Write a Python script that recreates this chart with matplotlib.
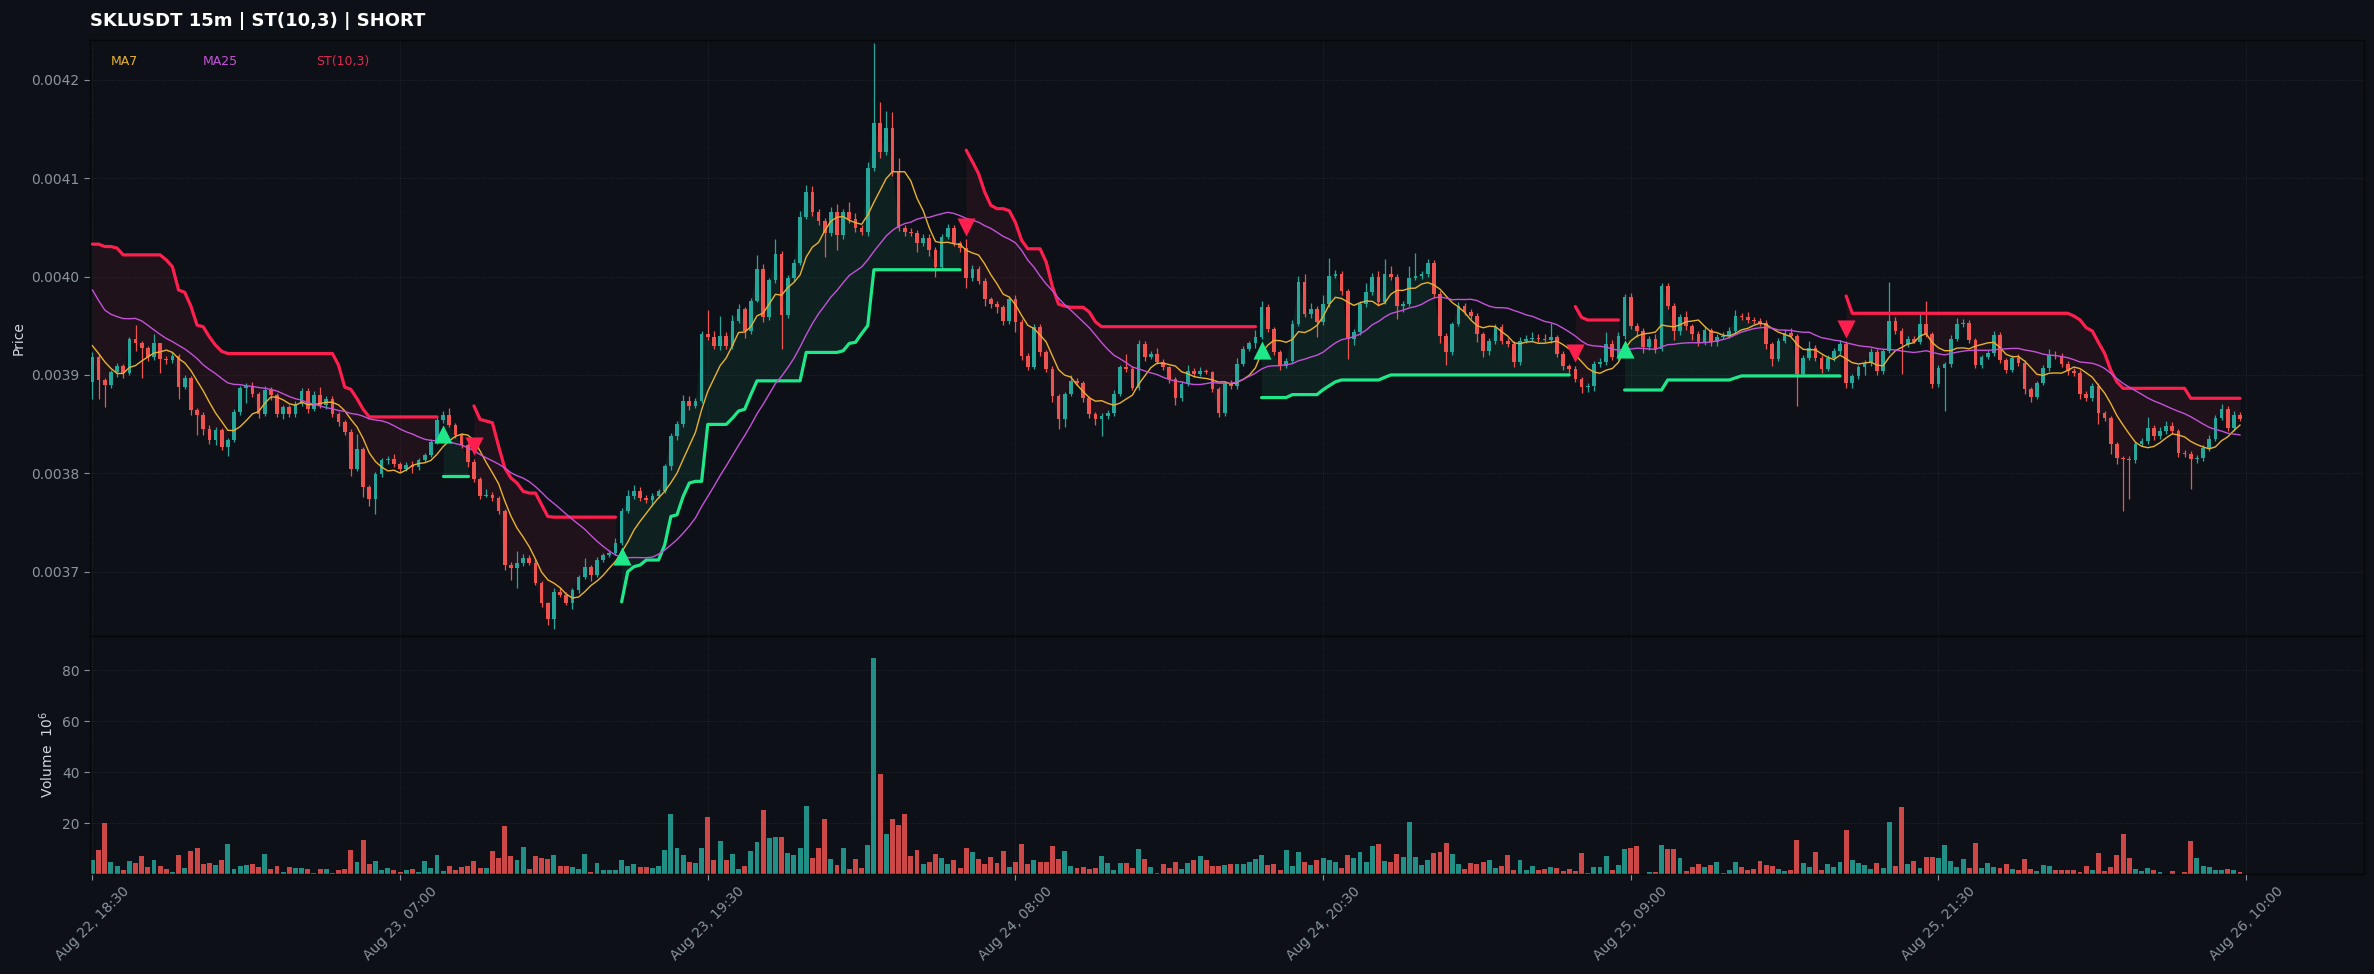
import numpy as np
import pandas as pd
import matplotlib
matplotlib.use("Agg")
import matplotlib.pyplot as plt

# ---------------- data (prices in units of 1e-7 USDT, volume in 1e6) ----------------
tick_index = [0, 50, 100, 150, 200, 250, 300, 350]
tick_labels = ["Aug 22, 18:30", "Aug 23, 07:00", "Aug 23, 19:30", "Aug 24, 08:00",
               "Aug 24, 20:30", "Aug 25, 09:00", "Aug 25, 21:30", "Aug 26, 10:00"]

# closes before the visible window (only used to seed the moving averages)
warmup_close = [41600, 41350, 40100, 39700, 39500, 39400, 39246, 39900, 40300, 40500,
                40300, 40192, 40000, 39800, 39900, 39800, 39869, 40065, 39500, 39490,
                39500, 39458, 39016, 38930]

close = [
    39185, 38947, 38902, 39032, 39093, 39015, 39361, 39320, 39270, 39185,
    39320, 39167, 39150, 39195, 38879, 38964, 38641, 38590, 38454, 38335,
    38437, 38267, 38335, 38624, 38868, 38885, 38811, 38607, 38845, 38794,
    38607, 38675, 38607, 38709, 38834, 38658, 38794, 38692, 38760, 38607,
    38522, 38420, 38046, 38250, 37859, 37740, 37995, 38131, 38148, 38097,
    38046, 38080, 38063, 38131, 38182, 38318, 38539, 38590, 38488, 38386,
    38284, 38114, 37944, 37774, 37780, 37750, 37612, 37067, 37033, 37084,
    37135, 37084, 36880, 36676, 36522, 36795, 36761, 36676, 36812, 36948,
    37050, 36965, 37118, 37169, 37186, 37288, 37612, 37765, 37816, 37748,
    37731, 37765, 37816, 38072, 38378, 38497, 38736, 38685, 38736, 39417,
    39383, 39298, 39400, 39298, 39553, 39672, 39451, 39757, 40081, 39587,
    39961, 40234, 39610, 39983, 40136, 40610, 40864, 40661, 40569, 40441,
    40661, 40424, 40661, 40590, 40491, 40458, 41102, 41566, 41271, 41508,
    41068, 40491, 40458, 40447, 40339, 40390, 40271, 40102, 40407, 40491,
    40339, 40288, 39983, 40074, 39960, 39773, 39722, 39688, 39552, 39773,
    39535, 39195, 39076, 39484, 39229, 39059, 38787, 38548, 38803, 38940,
    38923, 38770, 38600, 38549, 38583, 38617, 38804, 39076, 39059, 38872,
    39314, 39178, 39212, 39127, 39076, 38957, 38770, 38906, 39042, 39008,
    39042, 39025, 38855, 38617, 38923, 38889, 39110, 39263, 39320, 39382,
    39688, 39467, 39229, 39093, 39146, 39519, 39942, 39620, 39671, 39536,
    39722, 40010, 40027, 39858, 39366, 39434, 39722, 39841, 39993, 39739,
    40027, 39993, 39705, 39722, 39986, 40010, 40027, 40136, 39824, 39400,
    39230, 39519, 39705, 39637, 39603, 39417, 39247, 39342, 39491, 39349,
    39315, 39129, 39349, 39366, 39376, 39366, 39359, 39383, 39213, 39095,
    39061, 38959, 38875, 38890, 39112, 39129, 39315, 39180, 39400, 39790,
    39502, 39451, 39281, 39366, 39264, 39908, 39705, 39451, 39593, 39502,
    39417, 39332, 39457, 39332, 39383, 39400, 39451, 39603, 39586, 39559,
    39552, 39532, 39312, 39159, 39346, 39430, 39397, 39007, 39176, 39271,
    39169, 39058, 39176, 39244, 39312, 38922, 38990, 39081, 39125, 39237,
    39041, 39244, 39549, 39447, 39312, 39363, 39340, 39515, 39414, 38912,
    39075, 39108, 39363, 39522, 39532, 39353, 39102, 39183, 39227, 39407,
    39149, 39047, 39176, 39125, 38854, 38776, 38922, 39068, 39203, 39193,
    39115, 39041, 39024, 38810, 38769, 38888, 38617, 38566, 38295, 38159,
    38142, 38139, 38295, 38329, 38464, 38380, 38430, 38481, 38430, 38210,
    38193, 38142, 38159, 38261, 38346, 38566, 38651, 38464, 38593, 38549,
]

upper_wick = [
    51, 27, 20, 17, 24, 17, 27, 150, 30, 20,
    100, 10, 30, 40, 20, 40, 30, 20, 30, 40,
    30, 20, 20, 30, 20, 30, 40, 20, 40, 30,
    20, 20, 20, 30, 30, 30, 40, 80, 30, 30,
    20, 20, 30, 150, 20, 20, 20, 20, 30, 50,
    20, 30, 40, 20, 20, 30, 40, 40, 70, 20,
    20, 20, 30, 20, 60, 30, 20, 20, 30, 130,
    40, 30, 40, 20, 20, 40, 50, 30, 20, 20,
    90, 20, 30, 20, 30, 50, 40, 70, 60, 40,
    30, 30, 20, 20, 30, 30, 60, 50, 30, 30,
    240, 60, 200, 40, 60, 50, 20, 30, 140, 50,
    20, 150, 30, 30, 40, 60, 70, 60, 30, 30,
    50, 80, 30, 100, 60, 30, 60, 807, 210, 180,
    170, 135, 30, 40, 30, 40, 40, 30, 30, 40,
    30, 20, 90, 40, 30, 30, 20, 30, 20, 30,
    40, 30, 30, 30, 30, 20, 30, 20, 20, 60,
    30, 20, 20, 20, 30, 30, 40, 30, 140, 30,
    40, 30, 30, 60, 40, 20, 20, 30, 60, 30,
    40, 20, 20, 20, 20, 30, 60, 30, 30, 80,
    60, 30, 20, 20, 30, 40, 60, 80, 60, 30,
    90, 180, 40, 30, 20, 30, 30, 90, 40, 60,
    150, 80, 30, 30, 120, 230, 30, 40, 30, 30,
    30, 20, 40, 30, 30, 30, 20, 30, 30, 30,
    30, 30, 40, 40, 60, 40, 50, 150, 20, 30,
    20, 30, 20, 30, 30, 40, 120, 40, 40, 30,
    40, 30, 30, 30, 50, 30, 30, 30, 30, 60,
    20, 30, 40, 20, 30, 40, 40, 60, 30, 50,
    30, 30, 30, 20, 30, 40, 50, 20, 30, 70,
    30, 30, 30, 30, 40, 30, 20, 20, 30, 40,
    30, 20, 400, 40, 30, 30, 30, 130, 240, 20,
    30, 20, 40, 60, 40, 30, 20, 20, 30, 40,
    30, 20, 30, 40, 30, 20, 20, 30, 60, 40,
    30, 30, 30, 30, 30, 30, 30, 20, 20, 20,
    20, 30, 20, 30, 110, 30, 40, 50, 40, 20,
    30, 30, 30, 30, 40, 30, 50, 30, 40, 30,
]

lower_wick = [
    170, 187, 228, 34, 51, 51, 17, 80, 300, 40,
    34, 150, 40, 30, 120, 20, 50, 200, 60, 40,
    50, 30, 90, 20, 30, 150, 40, 40, 20, 50,
    30, 50, 30, 30, 20, 50, 20, 30, 40, 30,
    40, 30, 70, 20, 100, 70, 150, 30, 40, 30,
    30, 20, 60, 30, 20, 20, 20, 30, 20, 30,
    30, 50, 30, 40, 20, 30, 30, 50, 120, 200,
    30, 20, 20, 40, 60, 110, 20, 20, 60, 30,
    20, 60, 20, 20, 20, 20, 20, 20, 30, 30,
    30, 60, 20, 20, 40, 40, 30, 40, 20, 20,
    30, 30, 40, 30, 30, 20, 80, 30, 20, 50,
    30, 30, 350, 30, 30, 20, 20, 40, 40, 240,
    30, 150, 40, 40, 40, 30, 40, 30, 60, 30,
    40, 30, 40, 30, 90, 30, 60, 110, 30, 20,
    30, 40, 100, 30, 30, 70, 40, 60, 40, 30,
    100, 40, 30, 20, 40, 30, 60, 100, 80, 20,
    30, 40, 40, 60, 170, 30, 30, 20, 30, 30,
    30, 40, 20, 20, 30, 40, 80, 30, 20, 30,
    20, 20, 30, 40, 30, 30, 30, 20, 20, 50,
    20, 30, 30, 40, 20, 20, 20, 30, 40, 150,
    30, 30, 20, 50, 200, 60, 30, 30, 30, 40,
    20, 30, 140, 60, 20, 20, 30, 30, 30, 80,
    130, 30, 20, 30, 30, 80, 60, 40, 30, 30,
    30, 50, 30, 20, 20, 30, 20, 30, 30, 40,
    40, 30, 60, 50, 50, 30, 30, 30, 30, 30,
    30, 70, 60, 30, 40, 20, 30, 100, 40, 40,
    60, 40, 30, 40, 40, 20, 20, 20, 30, 30,
    30, 30, 50, 70, 20, 20, 20, 320, 20, 20,
    30, 40, 20, 30, 30, 50, 50, 30, 80, 30,
    40, 30, 20, 30, 300, 30, 20, 30, 30, 40,
    30, 440, 30, 20, 30, 30, 30, 30, 20, 30,
    30, 30, 20, 30, 50, 50, 20, 20, 30, 30,
    30, 40, 30, 50, 30, 30, 120, 30, 100, 60,
    525, 400, 30, 20, 30, 40, 30, 30, 30, 40,
    30, 300, 40, 30, 30, 20, 20, 30, 30, 20,
]

volume = [
    5.6, 9.5, 20, 4.7, 3.3, 1.7, 5.2, 4.3, 6.9, 2.7,
    5.6, 3.3, 2, 0.7, 7.4, 2.5, 9.1, 10.2, 3.9, 4.3,
    3.5, 5.6, 11.7, 2, 3, 3.7, 3.9, 2.7, 8, 2,
    3.3, 0.7, 2.7, 2.5, 2.5, 2, 0.4, 2, 2, 0.5,
    1.4, 2, 9.5, 4.7, 13.4, 3.9, 5.2, 1.7, 2.5, 1.4,
    0.7, 1.4, 2, 0.7, 5.2, 2.5, 7.4, 1, 3.3, 1.4,
    2.7, 3.3, 5.2, 2.5, 2.5, 9.1, 6.3, 18.9, 7, 5.6,
    10.7, 2, 7, 6.3, 6, 7.4, 3.3, 3.3, 2.7, 2,
    8, 0.7, 4.4, 1.4, 1.4, 1.7, 5.6, 3.1, 3.9, 2.7,
    2.7, 2.5, 3.3, 9.5, 23.5, 10.2, 7.4, 4.7, 4.3, 10.2,
    22.3, 5.6, 13, 5.6, 8, 2, 3.3, 9.1, 12.5, 25.2,
    14.1, 14.5, 14.7, 8.2, 7.4, 10.2, 26.7, 6.3, 10.2, 21.5,
    6, 3.5, 10.2, 2, 5.9, 2.5, 11.5, 84.9, 39.2, 15.8,
    21.5, 19.3, 23.5, 7, 9.5, 3.9, 4.7, 8, 6.3, 3.9,
    5.6, 2.5, 10.2, 8.5, 5.9, 3.9, 6.6, 4.3, 9.1, 2.7,
    4.7, 11.7, 3.9, 5.6, 4.7, 4.7, 11.1, 5.9, 9.1, 3.3,
    2.5, 2.7, 2, 2.5, 7, 4.3, 1.7, 4.3, 4.3, 2.5,
    9.8, 5.9, 2.7, 0.4, 3.9, 2.5, 4.7, 2, 4.3, 5.6,
    6.9, 5.6, 3.3, 3.3, 3.5, 3.9, 3.9, 3.9, 4.7, 5.9,
    7.4, 3.5, 3.9, 1.7, 9.5, 3.3, 8.8, 4.7, 3.5, 5.6,
    6.3, 5.6, 4.7, 2.5, 7.4, 6.3, 8.8, 4.7, 11.1, 11.7,
    5.2, 4.7, 8, 6.7, 20.3, 6.7, 3.5, 5.6, 8.2, 8.8,
    12.2, 8, 3.9, 2, 4.3, 3.9, 4.7, 5.6, 2.5, 3.3,
    7.4, 1.7, 5.6, 1.7, 3.3, 1.7, 2, 2.7, 2.5, 1.2,
    2, 1.2, 8.2, 0.4, 2.7, 2.7, 7, 1.7, 3.5, 9.8,
    10.2, 11.1, 0.1, 0.7, 0.7, 11.5, 9.8, 9.8, 6.3, 1.2,
    2.7, 3.9, 2.7, 3.5, 4.7, 0.4, 1.7, 4.7, 2.7, 1.7,
    2, 5.2, 3.5, 3.3, 2, 1.2, 1.4, 13.4, 4.3, 2.7,
    8.8, 1.7, 3.9, 2.7, 4.7, 17.4, 5.6, 4.3, 3.5, 2,
    4.3, 2.5, 20.5, 3.3, 26.3, 3.9, 5.2, 2.5, 6.7, 6.7,
    6.3, 11.5, 5.2, 2.7, 5.9, 2.5, 12.2, 2.5, 4.3, 2.7,
    2.5, 3.9, 2, 1.4, 5.9, 2, 1.2, 3.5, 3.3, 1.7,
    1.7, 1.7, 1.7, 0.7, 3.3, 1.4, 8.2, 1.2, 2.7, 7.4,
    15.8, 6.3, 2, 1.2, 2.5, 1.4, 0.7, 0.1, 1.2, 0.1,
    0.7, 13, 6.3, 3.3, 2.7, 1.4, 1.4, 2, 1.4, 0.7,
]

supertrend = [
    40330, 40330, 40306, 40306, 40290, 40221, 40221, 40221, 40221, 40221,
    40221, 40221, 40170, 40100, 39864, 39840, 39700, 39507, 39490, 39388,
    39303, 39240, 39218, 39218, 39218, 39218, 39218, 39218, 39218, 39218,
    39218, 39218, 39218, 39218, 39218, 39218, 39218, 39218, 39218, 39218,
    39099, 38877, 38853, 38758, 38650, 38573, 38573, 38573, 38573, 38573,
    38573, 38573, 38573, 38573, 38573, 38573, 38573, 37971, 37971, 37971,
    37971, 37971, 38685, 38548, 38531, 38514, 38276, 38055, 37953, 37901,
    37816, 37799, 37799, 37680, 37561, 37554, 37554, 37554, 37554, 37554,
    37554, 37554, 37554, 37554, 37554, 37554, 36693, 37000, 37050, 37067,
    37118, 37118, 37118, 37271, 37561, 37578, 37765, 37901, 37918, 37918,
    38497, 38497, 38497, 38497, 38560, 38633, 38651, 38800, 38940, 38940,
    38940, 38940, 38940, 38940, 38940, 38940, 39229, 39229, 39229, 39229,
    39229, 39229, 39246, 39321, 39332, 39420, 39502, 40070, 40070, 40070,
    40070, 40070, 40070, 40070, 40070, 40070, 40070, 40070, 40070, 40070,
    40070, 40070, 41286, 41170, 41048, 40860, 40725, 40691, 40691, 40670,
    40550, 40370, 40283, 40283, 40283, 40147, 39900, 39720, 39700, 39688,
    39688, 39688, 39640, 39540, 39491, 39491, 39491, 39491, 39491, 39491,
    39491, 39491, 39491, 39491, 39491, 39491, 39491, 39491, 39491, 39491,
    39491, 39491, 39491, 39491, 39491, 39491, 39491, 39491, 39491, 39491,
    38770, 38770, 38770, 38770, 38770, 38800, 38800, 38800, 38800, 38800,
    38850, 38891, 38930, 38949, 38949, 38949, 38949, 38949, 38949, 38949,
    38975, 39000, 39000, 39000, 39000, 39000, 39000, 39000, 39000, 39000,
    39000, 39000, 39000, 39000, 39000, 39000, 39000, 39000, 39000, 39000,
    39000, 39000, 39000, 39000, 39000, 39000, 39000, 39000, 39000, 39000,
    39000, 39695, 39586, 39559, 39559, 39559, 39559, 39559, 39559, 38847,
    38847, 38847, 38847, 38847, 38847, 38847, 38949, 38949, 38949, 38949,
    38949, 38949, 38949, 38949, 38949, 38949, 38949, 38970, 38990, 38990,
    38990, 38990, 38990, 38990, 38990, 38990, 38990, 38990, 38990, 38990,
    38990, 38990, 38990, 38990, 38990, 39803, 39627, 39627, 39627, 39627,
    39627, 39627, 39627, 39627, 39627, 39627, 39627, 39627, 39627, 39627,
    39627, 39627, 39627, 39627, 39627, 39627, 39627, 39627, 39627, 39627,
    39627, 39627, 39627, 39627, 39627, 39627, 39627, 39627, 39627, 39627,
    39627, 39627, 39600, 39560, 39481, 39447, 39330, 39220, 39050, 38930,
    38864, 38864, 38864, 38864, 38864, 38864, 38864, 38864, 38864, 38864,
    38864, 38763, 38763, 38763, 38763, 38763, 38763, 38763, 38763, 38763,
]

# ---------------- derived series ----------------
U = 1e-7
c = np.array(close, float) * U
o = np.r_[warmup_close[-1], close[:-1]].astype(float) * U
hi = np.maximum(o, c) + np.array(upper_wick) * U
lo = np.minimum(o, c) - np.array(lower_wick) * U
st = np.array(supertrend, float) * U
vol = np.array(volume, float)
n = len(c)
x = np.arange(n)

allc = pd.Series(np.r_[np.array(warmup_close, float) * U, c])
ma7 = allc.rolling(7).mean().values[-n:]
ma25 = allc.rolling(25).mean().values[-n:]

bull = st < c
up = c >= o

# ---------------- styling ----------------
BG = "#0d1117"
TEAL = "#26a69a"
RED = "#ef5350"
ST_RED = "#ff1f4f"
ST_GREEN = "#1fe88a"
MA7_C = "#e8b130"
MA25_C = "#c452d8"
TXT = "#8b949e"
GRID = "#2b3139"

fig = plt.figure(figsize=(23.74, 9.74), dpi=100, facecolor=BG)
ax1 = fig.add_axes([0.0379, 0.347, 0.958, 0.612], facecolor=BG)
ax2 = fig.add_axes([0.0379, 0.1027, 0.958, 0.2443], facecolor=BG, sharex=ax1)

cols = np.where(up, TEAL, RED)

# supertrend fills and lines
seg_start = 0
for i in range(1, n + 1):
    if i == n or bull[i] != bull[seg_start]:
        s, e = seg_start, i
        colr = ST_GREEN if bull[s] else ST_RED
        ax1.fill_between(x[s:e], st[s:e], c[s:e], color=colr, alpha=0.08, lw=0, zorder=1)
        ax1.plot(x[s:e], st[s:e], color=colr, lw=2.3, zorder=4, solid_capstyle="round")
        seg_start = i

# candles
ax1.vlines(x, lo, hi, colors=cols, lw=0.9, zorder=2)
body_h = np.maximum(np.abs(c - o), 0.6e-7)
ax1.bar(x, body_h, bottom=np.minimum(o, c), width=0.6, color=cols, lw=0, zorder=3)

# moving averages
ax1.plot(x, ma7, color=MA7_C, lw=1.0, zorder=5)
ax1.plot(x, ma25, color=MA25_C, lw=1.0, zorder=5)

# flip markers
flips = np.where(bull[1:] != bull[:-1])[0] + 1
for i in flips:
    if bull[i]:
        ax1.scatter(i, lo[i] - 1.1e-5, marker="^", s=170, color=ST_GREEN, zorder=6, lw=0)
    else:
        ax1.scatter(i, hi[i] + 1.3e-5, marker="v", s=170, color=ST_RED, zorder=6, lw=0)

# legend-like labels
ax1.text(0.0092, 0.963, "MA7", color=MA7_C, fontsize=9, transform=ax1.transAxes, va="center")
ax1.text(0.0497, 0.963, "MA25", color=MA25_C, fontsize=9, transform=ax1.transAxes, va="center")
ax1.text(0.0994, 0.963, "ST(10,3)", color="#e0294f", fontsize=9, transform=ax1.transAxes, va="center")

ax1.set_xlim(-0.4, 369.2)
ax1.set_ylim(0.0036345, 0.0042407)
ax1.set_yticks([0.0037, 0.0038, 0.0039, 0.0040, 0.0041, 0.0042])
ax1.yaxis.set_major_formatter(matplotlib.ticker.FormatStrFormatter("%.4f"))
ax1.set_ylabel("Price", color="#d0d7de", fontsize=10)
ax1.set_title("SKLUSDT 15m | ST(10,3) | SHORT", loc="left", fontsize=13,
              fontweight="bold", color="white", pad=10)
ax1.tick_params(axis="x", labelbottom=False, length=0)

# volume
ax2.bar(x, vol, width=0.8, color=cols, alpha=0.85, lw=0)
ax2.set_ylim(0, vol.max() * 1.1)
ax2.set_yticks([20, 40, 60, 80])
ax2.set_ylabel(r"Volume  $10^6$", color="#d0d7de", fontsize=10)
ax2.set_xticks(tick_index)
ax2.set_xticklabels(tick_labels, rotation=45, ha="center")

for ax in (ax1, ax2):
    ax.tick_params(colors=TXT, labelsize=10, length=4, width=0.8)
    ax.grid(True, color=GRID, lw=0.6, ls=":", alpha=0.8)
    ax.set_axisbelow(True)
    for sp in ax.spines.values():
        sp.set_color("#050709")
        sp.set_linewidth(1.0)
ax1.tick_params(axis="x", length=0)

fig.savefig("out.png", dpi=100, facecolor=BG)
